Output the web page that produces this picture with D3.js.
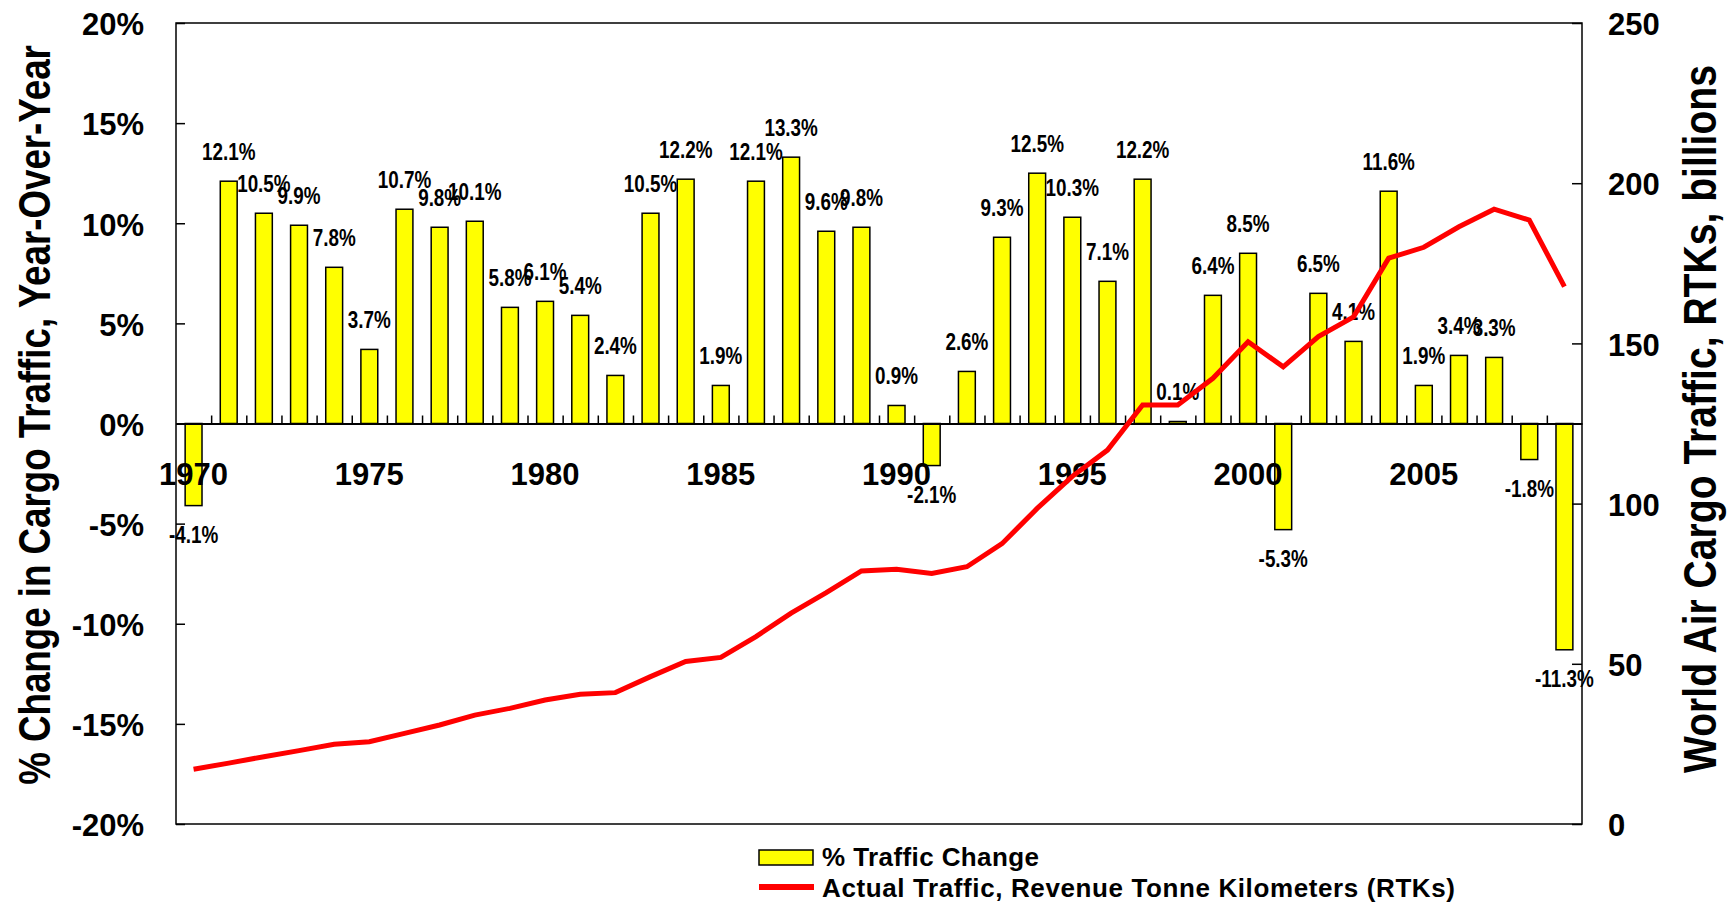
<!DOCTYPE html>
<html>
<head>
<meta charset="utf-8">
<script src="https://cdn.jsdelivr.net/npm/d3@7"></script>
<style>
body { margin: 0; background: #fff; }
svg text { font-family: "Liberation Sans", Arial, sans-serif; font-weight: bold; fill: #000; }
</style>
</head>
<body>
<svg id="chart" width="1729" height="904"></svg>
<script>
// years on the category axis
var years = [1970, 1971, 1972, 1973, 1974, 1975, 1976, 1977, 1978, 1979,
             1980, 1981, 1982, 1983, 1984, 1985, 1986, 1987, 1988, 1989,
             1990, 1991, 1992, 1993, 1994, 1995, 1996, 1997, 1998, 1999,
             2000, 2001, 2002, 2003, 2004, 2005, 2006, 2007, 2008, 2009];

// % traffic change, year over year (bars, left axis)
var pctChange = [-4.1, 12.1, 10.5, 9.9, 7.8, 3.7, 10.7, 9.8, 10.1, 5.8,
                 6.1, 5.4, 2.4, 10.5, 12.2, 1.9, 12.1, 13.3, 9.6, 9.8,
                 0.9, -2.1, 2.6, 9.3, 12.5, 10.3, 7.1, 12.2, 0.1, 6.4,
                 8.5, -5.3, 6.5, 4.1, 11.6, 1.9, 3.4, 3.3, -1.8, -11.3];

// actual traffic, RTKs in billions (line, right axis)
var rtk = [17.1, 19.0, 21.0, 22.9, 24.9, 25.7, 28.3, 30.9, 34.0, 36.1,
           38.7, 40.5, 41.0, 46.0, 50.7, 52.0, 58.5, 65.8, 72.2, 79.0,
           79.5, 78.2, 80.3, 87.5, 98.5, 108.5, 116.7, 130.8, 130.8, 139.1,
           150.5, 142.7, 152.1, 158.3, 176.6, 180.0, 186.4, 191.9, 188.5, 167.7];

var yearLabels = [1970, 1975, 1980, 1985, 1990, 1995, 2000, 2005];
var pctTicks = [-20, -15, -10, -5, 0, 5, 10, 15, 20];
var rtkTicks = [0, 50, 100, 150, 200, 250];

var leftTitle = "% Change in Cargo Traffic, Year-Over-Year";
var rightTitle = "World Air Cargo Traffic, RTKs, billions";
var legendBar = "% Traffic Change";
var legendLine = "Actual Traffic, Revenue Tonne Kilometers (RTKs)";

// plot box
var plot = {left: 176, right: 1582, top: 23, bottom: 824};

var svg = d3.select("#chart");

var data = years.map(function (y, i) {
    return {year: y, pct: pctChange[i], rtk: rtk[i]};
});

var x = d3.scaleBand().domain(years).range([plot.left, plot.right]).padding(0);
var xEdge = d3.scaleLinear().domain([0, years.length]).range([plot.left, plot.right]);
var yL = d3.scaleLinear().domain([-20, 20]).range([plot.bottom, plot.top]);
var yR = d3.scaleLinear().domain([0, 250]).range([plot.bottom, plot.top]);

var bw = x.bandwidth();
var barW = bw * 0.48;

// bars
svg.append("g").selectAll("rect")
    .data(data)
    .enter().append("rect")
    .attr("x", function (d) { return x(d.year) + (bw - barW) / 2; })
    .attr("y", function (d) { return yL(Math.max(0, d.pct)); })
    .attr("width", barW)
    .attr("height", function (d) { return Math.abs(yL(d.pct) - yL(0)); })
    .style("fill", "#ffff00")
    .style("stroke", "#000")
    .style("stroke-width", 1.5);

// frame
svg.append("rect")
    .attr("x", plot.left).attr("y", plot.top)
    .attr("width", plot.right - plot.left).attr("height", plot.bottom - plot.top)
    .style("fill", "none").style("stroke", "#000").style("stroke-width", 1.5);

// left axis
var gL = svg.append("g")
    .attr("transform", "translate(" + plot.left + ",0)")
    .call(d3.axisLeft(yL).tickValues(pctTicks).tickSizeInner(-9).tickSizeOuter(0)
        .tickPadding(32).tickFormat(function (d) { return d + "%"; }));
gL.select(".domain").remove();

// right axis
var gR = svg.append("g")
    .attr("transform", "translate(" + plot.right + ",0)")
    .call(d3.axisRight(yR).tickValues(rtkTicks).tickSizeInner(-10).tickSizeOuter(0).tickPadding(26));
gR.select(".domain").remove();

[gL, gR].forEach(function (g) {
    g.selectAll("line").style("stroke", "#000").style("stroke-width", 1.5);
    g.selectAll("text")
        .attr("dy", "0.38em")
        .style("font-size", "31px")
        .style("font-family", "'Liberation Sans', Arial, sans-serif")
        .style("font-weight", "bold")
        .style("fill", "#000");
});

// zero line with category ticks
var gX = svg.append("g")
    .attr("transform", "translate(0," + yL(0) + ")")
    .call(d3.axisTop(xEdge).tickValues(d3.range(1, years.length)).tickSize(8).tickSizeOuter(0).tickFormat(""));
gX.select(".domain").style("stroke", "#000").style("stroke-width", 2);
gX.selectAll("line").style("stroke", "#000").style("stroke-width", 1.5);

// year labels
svg.append("g").selectAll("text")
    .data(yearLabels)
    .enter().append("text")
    .attr("x", function (d) { return x(d) + bw / 2; })
    .attr("y", 485)
    .attr("text-anchor", "middle")
    .style("font-size", "31px")
    .text(function (d) { return d; });

// data labels (narrow face, squeezed horizontally)
svg.append("g").selectAll("text")
    .data(data)
    .enter().append("text")
    .attr("transform", function (d) {
        var ly = d.pct >= 0 ? yL(d.pct) - 21 : yL(d.pct) + 37;
        return "translate(" + (x(d.year) + bw / 2) + "," + ly + ") scale(0.82,1)";
    })
    .attr("text-anchor", "middle")
    .style("font-size", "23px")
    .text(function (d) { return d.pct.toFixed(1) + "%"; });

// RTK line
var line = d3.line()
    .x(function (d) { return x(d.year) + bw / 2; })
    .y(function (d) { return yR(d.rtk); });

svg.append("path")
    .datum(data)
    .attr("d", line)
    .style("fill", "none")
    .style("stroke", "#ff0000")
    .style("stroke-width", 5);

// axis titles
svg.append("text")
    .attr("transform", "translate(50,415) rotate(-90) scale(0.816,1)")
    .attr("text-anchor", "middle")
    .style("font-size", "45px")
    .text(leftTitle);

svg.append("text")
    .attr("transform", "translate(1716,419) rotate(-90) scale(0.85,1)")
    .attr("text-anchor", "middle")
    .style("font-size", "46px")
    .text(rightTitle);

// legend
svg.append("rect")
    .attr("x", 759).attr("y", 850).attr("width", 54).attr("height", 15)
    .style("fill", "#ffff00").style("stroke", "#000").style("stroke-width", 1.5);
svg.append("text").attr("x", 822).attr("y", 866)
    .attr("textLength", 217).attr("lengthAdjust", "spacing")
    .style("font-size", "26px").text(legendBar);

svg.append("line")
    .attr("x1", 759).attr("x2", 814).attr("y1", 887).attr("y2", 887)
    .style("stroke", "#ff0000").style("stroke-width", 6);
svg.append("text").attr("x", 822).attr("y", 897)
    .attr("textLength", 633).attr("lengthAdjust", "spacing")
    .style("font-size", "26px").text(legendLine);
</script>
</body>
</html>
